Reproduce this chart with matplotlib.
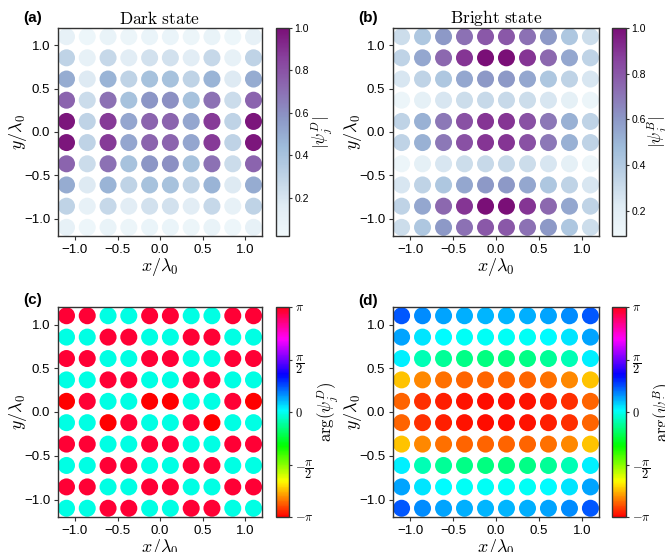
import numpy as np
import matplotlib
import matplotlib.pyplot as plt
from matplotlib.colors import LinearSegmentedColormap

plt.rcParams['font.family'] = ['Liberation Sans', 'DejaVu Sans']
plt.rcParams['mathtext.fontset'] = 'cm'

# lattice positions (units of lambda_0)
x_pos = [-1.1, -0.856, -0.611, -0.367, -0.122, 0.122, 0.367, 0.611, 0.856, 1.1]
y_pos = [1.1, 0.856, 0.611, 0.367, 0.122, -0.122, -0.367, -0.611, -0.856, -1.1]

# |psi_j^D| rows top -> bottom
amp_dark = [
    [0.10, 0.05, 0.08, 0.06, 0.07, 0.07, 0.06, 0.08, 0.05, 0.10],
    [0.30, 0.10, 0.27, 0.15, 0.22, 0.22, 0.15, 0.27, 0.10, 0.30],
    [0.50, 0.17, 0.47, 0.30, 0.40, 0.40, 0.30, 0.47, 0.17, 0.50],
    [0.74, 0.25, 0.70, 0.40, 0.58, 0.60, 0.40, 0.70, 0.25, 0.74],
    [0.98, 0.30, 0.88, 0.52, 0.74, 0.74, 0.52, 0.88, 0.30, 0.98],
    [0.98, 0.30, 0.88, 0.52, 0.74, 0.74, 0.52, 0.88, 0.30, 0.98],
    [0.74, 0.25, 0.70, 0.40, 0.58, 0.60, 0.40, 0.70, 0.25, 0.74],
    [0.50, 0.17, 0.47, 0.30, 0.40, 0.40, 0.30, 0.47, 0.17, 0.50],
    [0.30, 0.10, 0.27, 0.15, 0.22, 0.22, 0.15, 0.27, 0.10, 0.30],
    [0.10, 0.05, 0.08, 0.06, 0.07, 0.07, 0.06, 0.08, 0.05, 0.10],
]
amp_dark_range = (0.02, 1.0)

# |psi_j^B|
amp_bright = [
    [0.30, 0.42, 0.60, 0.72, 0.80, 0.80, 0.72, 0.60, 0.42, 0.30],
    [0.35, 0.55, 0.75, 0.90, 1.00, 1.00, 0.90, 0.75, 0.55, 0.35],
    [0.25, 0.35, 0.42, 0.55, 0.60, 0.60, 0.55, 0.42, 0.35, 0.25],
    [0.12, 0.18, 0.25, 0.30, 0.32, 0.32, 0.30, 0.25, 0.18, 0.12],
    [0.35, 0.52, 0.70, 0.82, 0.90, 0.90, 0.82, 0.70, 0.52, 0.35],
    [0.35, 0.52, 0.70, 0.82, 0.90, 0.90, 0.82, 0.70, 0.52, 0.35],
    [0.12, 0.18, 0.25, 0.30, 0.32, 0.32, 0.30, 0.25, 0.18, 0.12],
    [0.25, 0.35, 0.42, 0.55, 0.60, 0.60, 0.55, 0.42, 0.35, 0.25],
    [0.35, 0.55, 0.75, 0.90, 1.00, 1.00, 0.90, 0.75, 0.55, 0.35],
    [0.30, 0.42, 0.60, 0.72, 0.80, 0.80, 0.72, 0.60, 0.42, 0.30],
]
amp_bright_range = (0.09, 1.0)

# arg(psi_j^D)
phase_dark = [
    [3.00, 3.00, -0.06, -0.06, 3.00, 3.00, -0.06, -0.06, 3.00, 3.00],
    [-0.06, -0.06, 3.00, 3.00, -0.06, -0.06, 3.00, 3.00, -0.06, -0.06],
    [3.00, 3.00, -0.06, -0.06, 3.00, 3.00, -0.06, -0.06, 3.00, 3.00],
    [-0.06, -0.06, 3.00, 3.00, -0.06, -0.06, 3.00, 3.00, -0.06, -0.06],
    [-3.12, 3.00, -0.06, -0.06, -3.12, -3.12, -0.06, -0.06, 3.00, -3.12],
    [-0.06, -0.06, -3.12, 3.00, -0.06, -0.06, 3.00, -3.12, -0.06, -0.06],
    [3.00, 3.00, -0.06, -0.06, 3.00, 3.00, -0.06, -0.06, 3.00, 3.00],
    [-0.06, -0.06, 3.00, 3.00, -0.06, -0.06, 3.00, 3.00, -0.06, -0.06],
    [3.00, 3.00, -0.06, -0.06, 3.00, 3.00, -0.06, -0.06, 3.00, 3.00],
    [-0.06, -0.06, 3.00, 3.00, -0.06, -0.06, 3.00, 3.00, -0.06, -0.06],
]

# arg(psi_j^B)
phase_bright = [
    [0.75, 0.52, 0.42, 0.38, 0.36, 0.36, 0.38, 0.42, 0.52, 0.75],
    [0.42, 0.16, 0.05, 0.02, 0.00, 0.00, 0.02, 0.05, 0.16, 0.42],
    [0.10, -0.26, -0.37, -0.45, -0.47, -0.47, -0.45, -0.37, -0.26, 0.10],
    [-2.32, -2.56, -2.66, -2.70, -2.72, -2.72, -2.70, -2.66, -2.56, -2.32],
    [-2.72, -2.93, -3.00, -3.05, -3.08, -3.08, -3.05, -3.00, -2.93, -2.72],
    [-2.72, -2.93, -3.00, -3.05, -3.08, -3.08, -3.05, -3.00, -2.93, -2.72],
    [-2.32, -2.56, -2.66, -2.70, -2.72, -2.72, -2.70, -2.66, -2.56, -2.32],
    [0.10, -0.26, -0.37, -0.45, -0.47, -0.47, -0.45, -0.37, -0.26, 0.10],
    [0.42, 0.16, 0.05, 0.02, 0.00, 0.00, 0.02, 0.05, 0.16, 0.42],
    [0.75, 0.52, 0.42, 0.38, 0.36, 0.36, 0.38, 0.42, 0.52, 0.75],
]

phase_ticks = [-np.pi, -np.pi / 2, 0, np.pi / 2, np.pi]
phase_ticklabels = [r'$-\pi$', r'$-\dfrac{\pi}{2}$', r'$0$', r'$\dfrac{\pi}{2}$', r'$\pi$']

bupu = LinearSegmentedColormap.from_list(
    'bupu8', ['#f0f8fb', '#e0ecf4', '#bfd3e6', '#9ebcda', '#8c96c6',
              '#8c6bb1', '#88419d', '#7a0f77'])

W, H = 665, 552
fig = plt.figure(figsize=(W / 100, H / 100), dpi=100)

XX, YY = np.meshgrid(x_pos, y_pos)


def panel(rect, crect, vals, cmap, vmin, vmax, title, letter, letter_y, clabel, phase):
    w = rect[2] - rect[0]
    h = rect[3] - rect[1]
    ax = fig.add_axes([rect[0] / W, 1 - rect[3] / H, w / W, h / H])
    cax = fig.add_axes([crect[0] / W, 1 - rect[3] / H, (crect[1] - crect[0]) / W, h / H])
    sc = ax.scatter(XX.ravel(), YY.ravel(), c=np.array(vals).ravel(), cmap=cmap,
                    vmin=vmin, vmax=vmax, s=150, linewidths=0)
    ax.set_xlim(-1.2, 1.2)
    ax.set_ylim(-1.2, 1.2)
    ax.set_xticks([-1.0, -0.5, 0.0, 0.5, 1.0])
    ax.set_yticks([-1.0, -0.5, 0.0, 0.5, 1.0])
    ax.tick_params(labelsize=9.5, length=3, width=0.8, color='#333333', pad=2.5)
    for s in ax.spines.values():
        s.set_color('#333333')
        s.set_linewidth(1.0)
    ax.set_xlabel(r'$x/\lambda_0$', fontsize=13, labelpad=0)
    ax.set_ylabel(r'$y/\lambda_0$', fontsize=13)
    ax.yaxis.set_label_coords(-29 / w, 0.5)
    if title:
        ax.set_title(title, fontsize=12.5, pad=3)
    fig.text((rect[0] - 35) / W, 1 - letter_y / H, letter,
             fontsize=11, fontweight='bold', ha='left', va='center')
    cb = fig.colorbar(sc, cax=cax)
    cb.outline.set_edgecolor('#333333')
    cb.outline.set_linewidth(1.0)
    cax.tick_params(labelsize=7.5, length=2.5, width=0.8, color='#333333', pad=1.5)
    cw = crect[1] - crect[0]
    if phase:
        cb.set_ticks(phase_ticks)
        cb.set_ticklabels(phase_ticklabels)
        cax.tick_params(labelsize=9)
        cb.set_label(clabel, fontsize=12)
        cax.yaxis.set_label_coords(39 / cw, 0.5)
    else:
        cb.set_ticks([0.2, 0.4, 0.6, 0.8, 1.0])
        cb.set_label(clabel, fontsize=12)
        cax.yaxis.set_label_coords(33 / cw, 0.5)
    return ax


panel((58, 28, 262, 236), (276, 289), amp_dark, bupu, *amp_dark_range,
      r'$\mathrm{Dark\ state}$', '(a)', 18, r'$|\psi_j^D|$', False)
panel((393, 28, 599, 236), (612, 626), amp_bright, bupu, *amp_bright_range,
      r'$\mathrm{Bright\ state}$', '(b)', 18, r'$|\psi_j^B|$', False)
panel((58, 307, 262, 517), (276, 289), phase_dark, 'hsv', -np.pi, np.pi,
      None, '(c)', 300, r'$\mathrm{arg}(\psi_j^D)$', True)
panel((393, 307, 599, 517), (612, 626), phase_bright, 'hsv', -np.pi, np.pi,
      None, '(d)', 301, r'$\mathrm{arg}(\psi_j^B)$', True)

fig.savefig('out.png', dpi=100)
